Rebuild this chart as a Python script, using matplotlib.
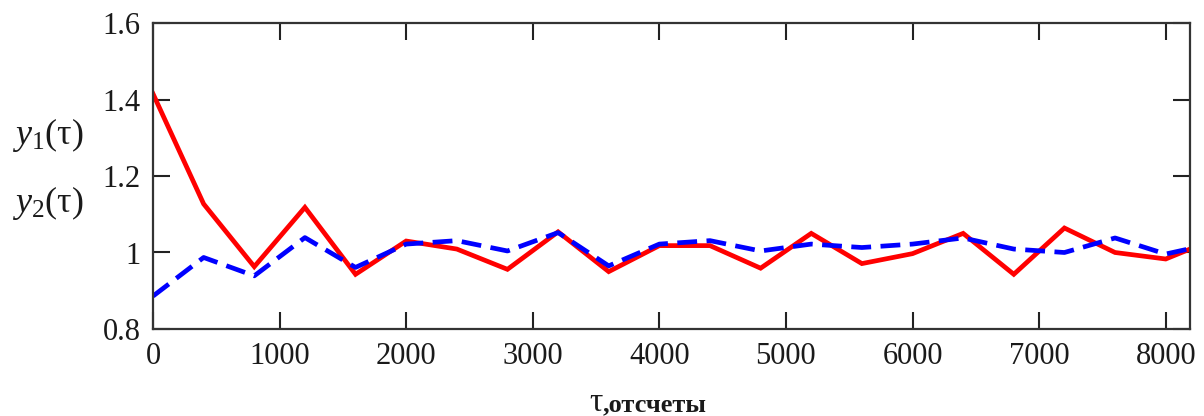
import matplotlib
matplotlib.use("Agg")
import matplotlib.pyplot as plt
import numpy as np

# data
tau = [0, 400, 800, 1200, 1600, 2000, 2400, 2800, 3200, 3600, 4000, 4400,
       4800, 5200, 5600, 6000, 6400, 6800, 7200, 7600, 8000, 8192]
y1 = [1.415, 1.127, 0.963, 1.118, 0.943, 1.030, 1.009, 0.956, 1.054, 0.950,
      1.018, 1.018, 0.959, 1.050, 0.971, 0.997, 1.050, 0.943, 1.064, 1.000,
      0.983, 1.009]
y2 = [0.886, 0.987, 0.939, 1.039, 0.961, 1.022, 1.031, 1.004, 1.052, 0.965,
      1.022, 1.031, 1.004, 1.022, 1.013, 1.022, 1.038, 1.009, 1.000, 1.038,
      0.996, 1.010]
xticks = [0, 1000, 2000, 3000, 4000, 5000, 6000, 7000, 8000]
yticks = [0.8, 1.0, 1.2, 1.4, 1.6]
ytick_labels = ["0.8", "1", "1.2", "1.4", "1.6"]

plt.rcParams['mathtext.fontset'] = 'custom'
plt.rcParams['mathtext.rm'] = 'Liberation Serif'
plt.rcParams['mathtext.it'] = 'Liberation Serif:italic'
plt.rcParams['font.family'] = ['Liberation Serif', 'DejaVu Serif']

W, H = 1204, 416
fig = plt.figure(figsize=(W / 100, H / 100), dpi=100)
L, R, B, T = 153, 1190, 329, 23
ax = fig.add_axes([L / W, 1 - B / H, (R - L) / W, (B - T) / H])

ax.plot(tau, y1, color=(1.0, 0.0, 0.0), lw=3.4, solid_joinstyle='miter')
ax.plot(tau, y2, color=(0.0, 0.0, 1.0), lw=3.4, dashes=(4.2, 2.0))

ax.set_xlim(0, 8192)
ax.set_ylim(0.8, 1.6)
ax.set_xticks(xticks)
ax.set_xticklabels([str(v) for v in xticks])
ax.set_yticks(yticks)
ax.set_yticklabels(ytick_labels)
ax.tick_params(direction='in', length=12, width=1.5, colors='#222222',
               top=True, right=True, labelsize=22, labelcolor='#1a1a1a')
ax.tick_params(axis='x', pad=9)
ax.tick_params(axis='y', pad=9)
for s in ax.spines.values():
    s.set_linewidth(1.6)
    s.set_color('#333333')

fig.text(48 / W, 1 - 135 / H, r'$y_{1}(\mathrm{\tau})$', fontsize=26,
         ha='center', va='center', color='#1a1a1a')
fig.text(48 / W, 1 - 203 / H, r'$y_{2}(\mathrm{\tau})$', fontsize=26,
         ha='center', va='center', color='#1a1a1a')

fig.text(603 / W, 1 - 411 / H, 'τ', fontsize=24, ha='right', va='baseline',
         color='#1a1a1a')
fig.text(603 / W, 1 - 411 / H, ',отсчеты', fontsize=19, fontweight='bold',
         ha='left', va='baseline', color='#1a1a1a')

fig.savefig('out.png', dpi=100)
